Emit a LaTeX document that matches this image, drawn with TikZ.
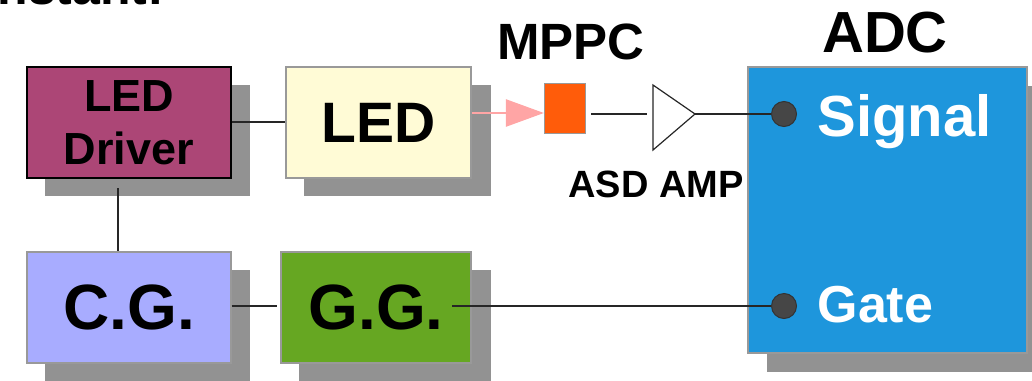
\documentclass[tikz,border=0pt]{standalone}
\usepackage{fontspec}
\setmainfont{Liberation Sans}
\usepackage{tikz}
\usetikzlibrary{calc,arrows.meta,shapes.geometric,positioning}
\definecolor{shadowgray}{RGB}{146,146,146}
\definecolor{driverplum}{RGB}{172,70,118}
\definecolor{ledcream}{RGB}{255,251,214}
\definecolor{cgblue}{RGB}{168,172,255}
\definecolor{gggreen}{RGB}{102,167,34}
\definecolor{mppcorange}{RGB}{255,92,10}
\definecolor{adcblue}{RGB}{30,150,220}
\definecolor{ledpink}{RGB}{255,165,165}
\definecolor{pindark}{RGB}{70,70,70}
\tikzset{
	blockbox/.style={draw=gray!80, line width=1.2pt, font=\bfseries, align=center, inner sep=0pt},
	wire/.style={line width=1.2pt, black!85},
	pin/.style={circle, draw=black!80, fill=pindark, line width=1pt, minimum size=25pt, inner sep=0pt}
}
\begin{document}
\begin{tikzpicture}[x=1pt,y=-1pt]
	\useasboundingbox (0,0) rectangle (1032,380);
	\node[font=\bfseries\fontsize{50}{50}\selectfont, anchor=base west] (caption) at (-6,5) {nstant:};
	
	% shadows
	\fill[shadowgray] (45,85) rectangle (250,196);
	\fill[shadowgray] (304,85) rectangle (491,196);
	\fill[shadowgray] (45,270) rectangle (250,381);
	\fill[shadowgray] (299,270) rectangle (491,381);
	\fill[shadowgray] (767,86) rectangle (1033,372);
	
	\node[blockbox, draw=black, fill=driverplum, minimum width=204pt, minimum height=111pt, font=\bfseries\fontsize{45}{53}\selectfont] (driver) at (129,122.5) {LED\\Driver};
	\node[blockbox, fill=ledcream, minimum width=185pt, minimum height=111pt, font=\bfseries\fontsize{57}{57}\selectfont] (led) at (378.5,122.5) {LED};
	\node[blockbox, fill=cgblue, minimum width=204pt, minimum height=111pt, font=\bfseries\fontsize{64}{64}\selectfont] (cg) at (129,307.5) {C.G.};
	\node[blockbox, fill=gggreen, minimum width=190pt, minimum height=111pt, font=\bfseries\fontsize{64}{64}\selectfont] (gg) at (376,307.5) {G.G.};
	\node[blockbox, fill=mppcorange, minimum width=41pt, minimum height=50pt] (mppc) at (565,108.5) {};
	\node[blockbox, fill=adcblue, minimum width=279pt, minimum height=286pt] (adc) at (887.5,210) {};
	
	\node[font=\bfseries\fontsize{51}{51}\selectfont] (mppclabel) at (571,42) {MPPC};
	\node[font=\bfseries\fontsize{58}{58}\selectfont] (adclabel) at (885,33) {ADC};
	\node[font=\bfseries\fontsize{38}{38}\selectfont] (amplabel) at (656,184) {ASD AMP};
	\node[font=\bfseries\fontsize{58}{58}\selectfont, text=white, anchor=west] (signal) at (814,122) {Signal};
	\node[font=\bfseries\fontsize{52}{52}\selectfont, text=white, anchor=west] (gate) at (814,305) {Gate};
	
	\node[pin] (sigpin) at (784,114) {};
	\node[pin] (gatepin) at (784,306) {};
	
	\coordinate (ampout) at (591,114);
	\coordinate (ampin) at (647,114);
	\coordinate (amptip) at (695,114);
	\coordinate (drop) at (118,188);
	\coordinate (ggout) at (452,306);
	\coordinate (ggin) at (277,306);
	\draw[line width=1.2pt, black!85, fill=white] (653,85) -- (amptip) -- (653,150) -- cycle;
	
	\draw[wire] (driver.east |- 0,122) -- (led.west |- 0,122);
	\draw[wire] (drop) -- (drop |- cg.north);
	\draw[wire] (cg.east |- ggin) -- (ggin);
	\draw[wire] (ggout) -- (gatepin);
	\draw[wire] (ampout) -- (ampin);
	\draw[wire] (amptip) -- (sigpin);
	
	\draw[line width=2.5pt, ledpink, -{Triangle[length=38pt,width=27pt]}] (472,113) -- (mppc.west |- 0,113);
\end{tikzpicture}
\end{document}
